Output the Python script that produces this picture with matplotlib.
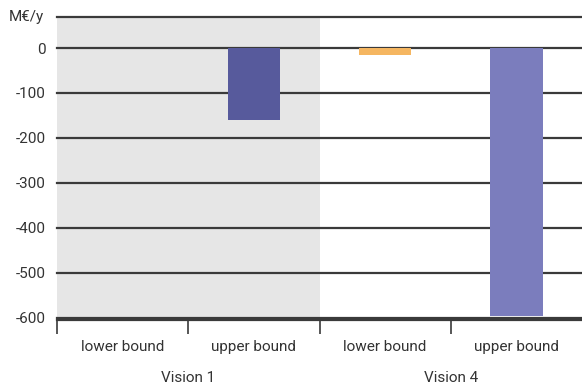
import matplotlib
matplotlib.use("Agg")
import matplotlib.pyplot as plt

categories = ["lower bound", "upper bound", "lower bound", "upper bound"]
groups = ["Vision 1", "Vision 4"]
values = [0, -160, -15, -597]
colors = ["#575A9C", "#575A9C", "#F5B661", "#7B7DBD"]
yticks = [0, -100, -200, -300, -400, -500, -600]
unit_label = "M€/y"

plt.rcParams["font.family"] = ["Roboto", "DejaVu Sans"]

fig = plt.figure(figsize=(5.82, 3.85), dpi=100)
ax = fig.add_axes([57/582, 1-320/385, 1-57/582, (320-17)/385])
ax.set_xlim(-0.5, 3.5)
ax.set_ylim(-605, 69)

ax.axvspan(-0.5, 1.5, color="#E6E6E6", zorder=0, lw=0)
for t in yticks + [68]:
    ax.axhline(t, color="#3a3a3a", lw=1.6, zorder=1, clip_on=False)

x = list(range(len(categories)))
for xi, v, c in zip(x, values, colors):
    if v != 0:
        ax.bar(xi, v, width=0.4, color=c, zorder=2)

for s in ["top", "right", "left"]:
    ax.spines[s].set_visible(False)
ax.spines["bottom"].set_color("#3a3a3a")
ax.spines["bottom"].set_linewidth(1.6)

fs = 11
ax.set_yticks(yticks)
ax.set_yticklabels([str(t) for t in yticks], fontsize=fs, color="#333333")
ax.tick_params(axis="y", length=0, pad=8)
ax.text(-0.6, 68, unit_label, ha="right", va="center", fontsize=fs, color="#333333",
        transform=ax.transData)

ax.set_xticks([-0.5, 0.5, 1.5, 2.5])
ax.set_xticklabels([])
ax.tick_params(axis="x", length=10, width=1.2, color="#3a3a3a")
for xi, lab in zip(x, categories):
    ax.text(xi, -0.09, lab, transform=ax.get_xaxis_transform(), ha="center", va="center",
            fontsize=fs, color="#333333")
for gi, g in enumerate(groups):
    ax.text(gi*2 + 0.5, -0.19, g, transform=ax.get_xaxis_transform(), ha="center", va="center",
            fontsize=fs, color="#333333")

fig.savefig("out.png", dpi=100)
